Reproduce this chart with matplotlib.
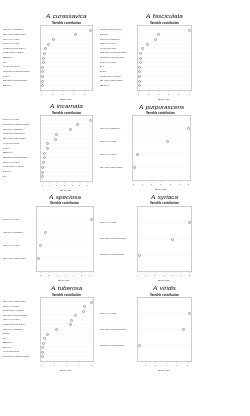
import matplotlib
matplotlib.use("Agg")
import matplotlib.pyplot as plt
import matplotlib.transforms as mtrans
from matplotlib.ticker import MultipleLocator

plt.rcParams['font.family'] = ['Liberation Sans', 'DejaVu Sans']

# ---------------- data ----------------
cur_labels = ["Temperature Seasonality", "Min Temp of Coldest Month", "Temp Annual Range",
              "Mean Annual Temp", "Precip of Warmest Quarter", "Precip of Coldest Quarter",
              "Ruggedness", "Slope", "Annual Precipitation", "Mean Temp of Warmest Quarter",
              "Elevation", "Max Temp of Warmest Month", "Roughness"]
cur_values = [45, 31, 10, 6, 3, 1.6, 1.1, 0.9, 0.5, 0.4, 0.3, 0.2, 0.1]

fas_labels = ["Precip of Warmest Quarter", "Roughness", "Temperature Seasonality",
              "Temp Annual Range", "Annual Precipitation", "Mean Temp of Warmest Quarter",
              "Max Temp of Warmest Month", "Mean Annual Temp", "Slope", "Elevation",
              "Precip of Coldest Quarter", "Min Temp of Coldest Month", "Ruggedness"]
fas_values = [49.5, 19, 16, 8, 3, 1.5, 1, 0.8, 0.5, 0.3, 0.2, 0.1, 0.1]

inc_labels = ["Mean Annual Temp", "Mean Temp of Warmest Quarter", "Temperature Seasonality",
              "Precip of Warmest Quarter", "Min Temp of Coldest Month", "Annual Precipitation",
              "Elevation", "Ruggedness", "Max Temp of Warmest Month", "Temp Annual Range",
              "Precip of Coldest Quarter", "Roughness", "Slope"]
inc_values = [31.4, 22.6, 18.2, 9.4, 8.8, 3.1, 3.1, 1.3, 1.1, 0.6, 0.3, 0.1, 0.0]

pur_labels = ["Temperature Seasonality", "Mean Annual Temp", "Temp Annual Range",
              "Min Temp of Coldest Month"]
pur_values = [58.4, 36.6, 3.9, 1.1]

spe_labels = ["Mean Annual Temp", "Temperature Seasonality", "Temp Annual Range",
              "Min Temp of Coldest Month"]
spe_values = [70.7, 14.7, 8.4, 6.4]

syr_labels = ["Mean Annual Temp", "Mean Temp of Warmest Quarter", "Max Temp of Warmest Month"]
syr_values = [58.6, 39.6, 1.6]

tub_labels = ["Min Temp of Coldest Month", "Mean Annual Temp", "Precip of Coldest Quarter",
              "Max Temp of Warmest Month", "Temp Annual Range", "Precip of Warmest Quarter",
              "Temperature Seasonality", "Elevation", "Slope", "Ruggedness", "Roughness",
              "Annual Precipitation", "Mean Temp of Warmest Quarter"]
tub_values = [19.8, 17.1, 16.7, 13.5, 11.8, 11.2, 5.6, 2.0, 1.1, 0.5, 0.3, 0.2, 0.1]

vir_labels = ["Mean Annual Temp", "Mean Temp of Warmest Quarter", "Max Temp of Warmest Month"]
vir_values = [51.0, 45.3, 3.7]

species = ["A. curassavica", "A. fasciculata", "A. incarnata", "A. purpurascens",
           "A. speciosa", "A. syriaca", "A. tuberosa", "A. viridis"]
subtitle = "Variable contribution"
xlabel = "Percentage"
tick_steps = [10, 10, 5, 10, 10, 10, 5, 10]

all_labels = [cur_labels, fas_labels, inc_labels, pur_labels, spe_labels, syr_labels,
              tub_labels, vir_labels]
all_values = [cur_values, fas_values, inc_values, pur_values, spe_values, syr_values,
              tub_values, vir_values]

# ---------------- layout (pixels) ----------------
W, H = 250, 416
# (left, top, right, bottom, label_x)
boxes = [(40, 25, 92, 90, 3), (137, 25, 191, 90, 100),
         (40, 115, 92, 181, 3), (132, 115, 190, 180, 100),
         (36, 206, 93, 271, 3), (137, 206, 191, 271, 100),
         (40, 297, 93, 361, 3), (137, 297, 191, 361, 100)]

fig = plt.figure(figsize=(W / 100, H / 100), dpi=100)
fig.patch.set_facecolor("white")

frame_col = "#aaaaaa"
for sp, labs, vals, (l, t, r, b, lx), step in zip(species, all_labels, all_values, boxes, tick_steps):
    ax = fig.add_axes([l / W, 1 - b / H, (r - l) / W, (b - t) / H])
    n = len(vals)
    ys = [n - i for i in range(n)]
    lo, hi = min(vals), max(vals)
    rng = hi - lo
    ax.set_xlim(lo - 0.04 * rng, hi + 0.04 * rng)
    ax.set_ylim(0, n + 1)
    for y in ys:
        ax.axhline(y, color="#d3d3d3", lw=0.3, ls=(0, (1, 1.5)), zorder=1)
    ax.plot(vals, ys, ls="none", marker="o", ms=1.4, mfc="none", mec="#555555",
            mew=0.3, zorder=3)
    ax.set_yticks([])
    ax.xaxis.set_major_locator(MultipleLocator(step))
    ax.tick_params(axis="x", length=1.2, width=0.3, color=frame_col, pad=1.6,
                   labelsize=1.4, labelcolor="#333333")
    for s in ax.spines.values():
        s.set_color(frame_col)
        s.set_linewidth(0.4)
    ax.set_xlabel(xlabel, fontsize=1.7, labelpad=3, color="#333333")
    trans = mtrans.blended_transform_factory(fig.transFigure, ax.transData)
    for y, lab in zip(ys, labs):
        ax.text(lx / W, y, lab, transform=trans, fontsize=1.35, ha="left", va="center",
                color="#222222", clip_on=False)
    cx = (l + r) / 2
    fig.text(cx / W, 1 - (t - 8) / H, sp, fontsize=4.6, style="italic", ha="center",
             va="center", color="#111111")
    fig.text(cx / W, 1 - (t - 2.5) / H, subtitle, fontsize=2.1, weight="bold",
             ha="center", va="center", color="#111111")

fig.savefig("out.png", dpi=100, facecolor="white")
